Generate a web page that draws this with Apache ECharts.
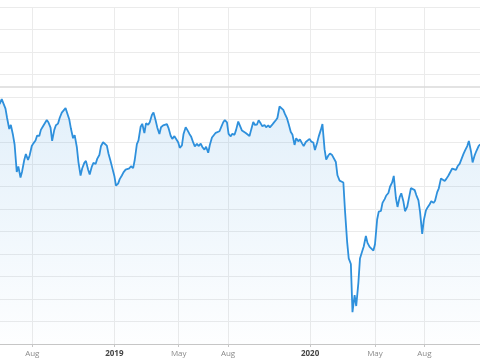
<!DOCTYPE html>
<html>
<head>
<meta charset="utf-8">
<script src="https://cdn.jsdelivr.net/npm/echarts@6/dist/echarts.min.js"></script>
<style>
html,body{margin:0;padding:0;background:#fff;}
#chart{width:480px;height:360px;}
</style>
</head>
<body>
<div id="chart"></div>
<script>
// Twice-weekly closes (Tue/Fri)
const dates = [
'2018-06-01','2018-06-05','2018-06-08','2018-06-12','2018-06-15','2018-06-19','2018-06-22','2018-06-26','2018-06-29',
'2018-07-03','2018-07-06','2018-07-10','2018-07-13','2018-07-17','2018-07-20','2018-07-24','2018-07-27','2018-07-31',
'2018-08-03','2018-08-07','2018-08-10','2018-08-14','2018-08-17','2018-08-21','2018-08-24','2018-08-28','2018-08-31',
'2018-09-04','2018-09-07','2018-09-11','2018-09-14','2018-09-18','2018-09-21','2018-09-25','2018-09-28',
'2018-10-02','2018-10-05','2018-10-09','2018-10-12','2018-10-16','2018-10-19','2018-10-23','2018-10-26','2018-10-30',
'2018-11-02','2018-11-06','2018-11-09','2018-11-13','2018-11-16','2018-11-20','2018-11-23','2018-11-27','2018-11-30',
'2018-12-04','2018-12-07','2018-12-11','2018-12-14','2018-12-18','2018-12-21','2018-12-25','2018-12-28',
'2019-01-01','2019-01-04','2019-01-08','2019-01-11','2019-01-15','2019-01-18','2019-01-22','2019-01-25','2019-01-29',
'2019-02-01','2019-02-05','2019-02-08','2019-02-12','2019-02-15','2019-02-19','2019-02-22','2019-02-26',
'2019-03-01','2019-03-05','2019-03-08','2019-03-12','2019-03-15','2019-03-19','2019-03-22','2019-03-26','2019-03-29',
'2019-04-02','2019-04-05','2019-04-09','2019-04-12','2019-04-16','2019-04-19','2019-04-23','2019-04-26','2019-04-30',
'2019-05-03','2019-05-07','2019-05-10','2019-05-14','2019-05-17','2019-05-21','2019-05-24','2019-05-28','2019-05-31',
'2019-06-04','2019-06-07','2019-06-11','2019-06-14','2019-06-18','2019-06-21','2019-06-25','2019-06-28',
'2019-07-02','2019-07-05','2019-07-09','2019-07-12','2019-07-16','2019-07-19','2019-07-23','2019-07-26','2019-07-30',
'2019-08-02','2019-08-06','2019-08-09','2019-08-13','2019-08-16','2019-08-20','2019-08-23','2019-08-27','2019-08-30',
'2019-09-03','2019-09-06','2019-09-10','2019-09-13','2019-09-17','2019-09-20','2019-09-24','2019-09-27',
'2019-10-01','2019-10-04','2019-10-08','2019-10-11','2019-10-15','2019-10-18','2019-10-22','2019-10-25','2019-10-29',
'2019-11-01','2019-11-05','2019-11-08','2019-11-12','2019-11-15','2019-11-19','2019-11-22','2019-11-26','2019-11-29',
'2019-12-03','2019-12-06','2019-12-10','2019-12-13','2019-12-17','2019-12-20','2019-12-24','2019-12-27','2019-12-31',
'2020-01-03','2020-01-07','2020-01-10','2020-01-14','2020-01-17','2020-01-21','2020-01-24','2020-01-28','2020-01-31',
'2020-02-04','2020-02-07','2020-02-11','2020-02-14','2020-02-18','2020-02-21','2020-02-25','2020-02-28',
'2020-03-03','2020-03-06','2020-03-10','2020-03-13','2020-03-17','2020-03-20','2020-03-24','2020-03-27','2020-03-31',
'2020-04-03','2020-04-07','2020-04-10','2020-04-14','2020-04-17','2020-04-21','2020-04-24','2020-04-28',
'2020-05-01','2020-05-05','2020-05-08','2020-05-12','2020-05-15','2020-05-19','2020-05-22','2020-05-26','2020-05-29',
'2020-06-02','2020-06-05','2020-06-09','2020-06-12','2020-06-16','2020-06-19','2020-06-23','2020-06-26','2020-06-30',
'2020-07-03','2020-07-07','2020-07-10','2020-07-14','2020-07-17','2020-07-21','2020-07-24','2020-07-28','2020-07-31',
'2020-08-04','2020-08-07','2020-08-11','2020-08-14','2020-08-18','2020-08-21','2020-08-25','2020-08-28',
'2020-09-01','2020-09-04','2020-09-08','2020-09-11','2020-09-15','2020-09-18','2020-09-22','2020-09-25','2020-09-29',
'2020-10-02','2020-10-06','2020-10-09','2020-10-13','2020-10-16','2020-10-20','2020-10-23','2020-10-27','2020-10-30',
'2020-11-03','2020-11-06','2020-11-10','2020-11-13'
];
const prices = [
106.8,109.0,109.7,104.8,100.6,95.7,97.5,93.0,88.8,
76.6,79.0,74.1,76.8,81.9,84.6,81.9,83.9,88.1,
89.3,90.6,92.8,92.6,95.3,96.9,97.5,99.7,98.7,
96.3,90.4,95.3,97.4,98.1,100.6,103.0,103.8,
105.0,105.8,99.9,95.9,91.6,93.0,87.7,81.0,75.0,
78.1,80.6,81.5,77.7,75.4,79.0,80.6,80.1,82.4,
84.1,88.0,89.8,89.7,88.3,84.8,81.3,78.5,
74.8,70.5,71.4,73.4,75.0,76.4,77.6,77.7,78.2,
79.1,78.3,81.9,89.0,90.6,96.7,98.0,93.9,
98.2,97.6,98.7,101.9,103.1,99.5,96.4,93.5,96.5,
97.3,98.0,97.9,96.1,92.7,91.3,92.5,91.9,89.8,
87.3,88.4,93.5,96.5,95.3,93.5,92.4,89.7,88.0,
89.1,88.1,89.2,87.7,86.5,87.8,85.1,88.6,
91.9,92.8,94.0,94.8,94.7,96.4,98.7,99.7,98.7,
93.5,92.4,93.6,93.1,95.3,99.0,98.6,95.0,95.0,
93.9,93.8,92.6,95.3,98.8,97.5,97.7,99.6,
98.1,96.9,97.5,96.5,97.3,96.4,97.5,98.4,99.6,
100.6,105.7,105.7,104.2,102.4,100.4,97.9,94.4,93.3,
88.6,91.6,90.2,91.1,89.3,88.1,89.9,89.4,91.3,
90.1,89.7,86.3,89.5,92.3,95.3,97.9,86.6,82.1,
83.9,84.8,84.1,84.3,81.0,75.1,72.7,72.9,
71.9,59.6,45.6,38.1,35.6,14.2,21.8,16.9,27.2,
38.1,41.2,43.4,48.1,45.0,43.2,42.6,41.6,
44.4,55.4,58.9,59.2,62.8,64.5,66.1,67.2,70.0,
71.9,74.8,65.0,61.0,65.4,67.1,63.4,59.1,61.0,
64.6,69.4,69.2,68.5,66.3,63.9,58.8,49.0,55.0,
59.5,60.8,62.2,63.6,62.8,63.8,67.6,69.3,
73.7,73.9,72.6,73.5,75.0,75.2,78.1,78.0,77.5,
79.1,80.3,81.1,84.6,86.2,88.1,90.4,85.7,80.8,
84.1,85.9,88.0,88.9
];
const refLevel = 114.3;
const tickDates = ['2018-08-01','2019-01-01','2019-05-01','2019-08-01','2020-01-01','2020-05-01','2020-08-01'];
const monthNames = ['Jan','Feb','Mar','Apr','May','Jun','Jul','Aug','Sep','Oct','Nov','Dec'];

function toTs(s){const p=s.split('-').map(Number);return Date.UTC(p[0],p[1]-1,p[2]);}
const seriesData = dates.map((d,i)=>[toTs(d), prices[i]]);
const tickTs = tickDates.map(toTs);

const chart = echarts.init(document.getElementById('chart'), null, {renderer:'canvas'});
chart.setOption({
  animation:false,
  backgroundColor:'#ffffff',
  grid:{left:0,right:0,top:7,bottom:16,containLabel:false},
  xAxis:{
    type:'value',
    min:Date.UTC(2018,5,1,18,33),
    max:Date.UTC(2020,10,12,19,0),
    axisLine:{show:true,lineStyle:{color:'#c6c6c6',width:1}},
    axisTick:{show:true,customValues:tickTs,length:3,lineStyle:{color:'#c6c6c6'}},
    splitLine:{show:true,lineStyle:{color:'#ebebeb',width:1}},
    axisLabel:{
      customValues:tickTs,
      hideOverlap:false,
      margin:6,
      fontFamily:'"Open Sans", "DejaVu Sans", sans-serif',
      fontSize:8,
      color:'#8a8a8a',
      formatter:function(v){
        const d=new Date(v);
        if(d.getUTCMonth()===0) return '{y|'+d.getUTCFullYear()+'}';
        return monthNames[d.getUTCMonth()];
      },
      rich:{y:{fontSize:8,fontWeight:'bold',color:'#444',fontFamily:'"Open Sans", "DejaVu Sans", sans-serif'}}
    }
  },
  yAxis:{
    type:'value',min:0,max:150,interval:10,
    axisLabel:{show:false},axisLine:{show:false},axisTick:{show:false},
    splitLine:{show:true,lineStyle:{color:'#ebebeb',width:1}}
  },
  series:[{
    type:'line',
    data:seriesData,
    showSymbol:false,
    symbol:'none',
    smooth:false,
    clip:true,
    lineStyle:{color:'#2e90dc',width:1.8},
    areaStyle:{
      color:new echarts.graphic.LinearGradient(0,0,0,1,[
        {offset:0,color:'rgba(46,144,220,0.20)'},
        {offset:1,color:'rgba(46,144,220,0.01)'}
      ])
    },
    markLine:{
      silent:true,symbol:'none',
      label:{show:false},
      lineStyle:{color:'#dadada',width:1.5,type:'solid'},
      data:[{yAxis:refLevel}]
    }
  }]
});
</script>
</body>
</html>
